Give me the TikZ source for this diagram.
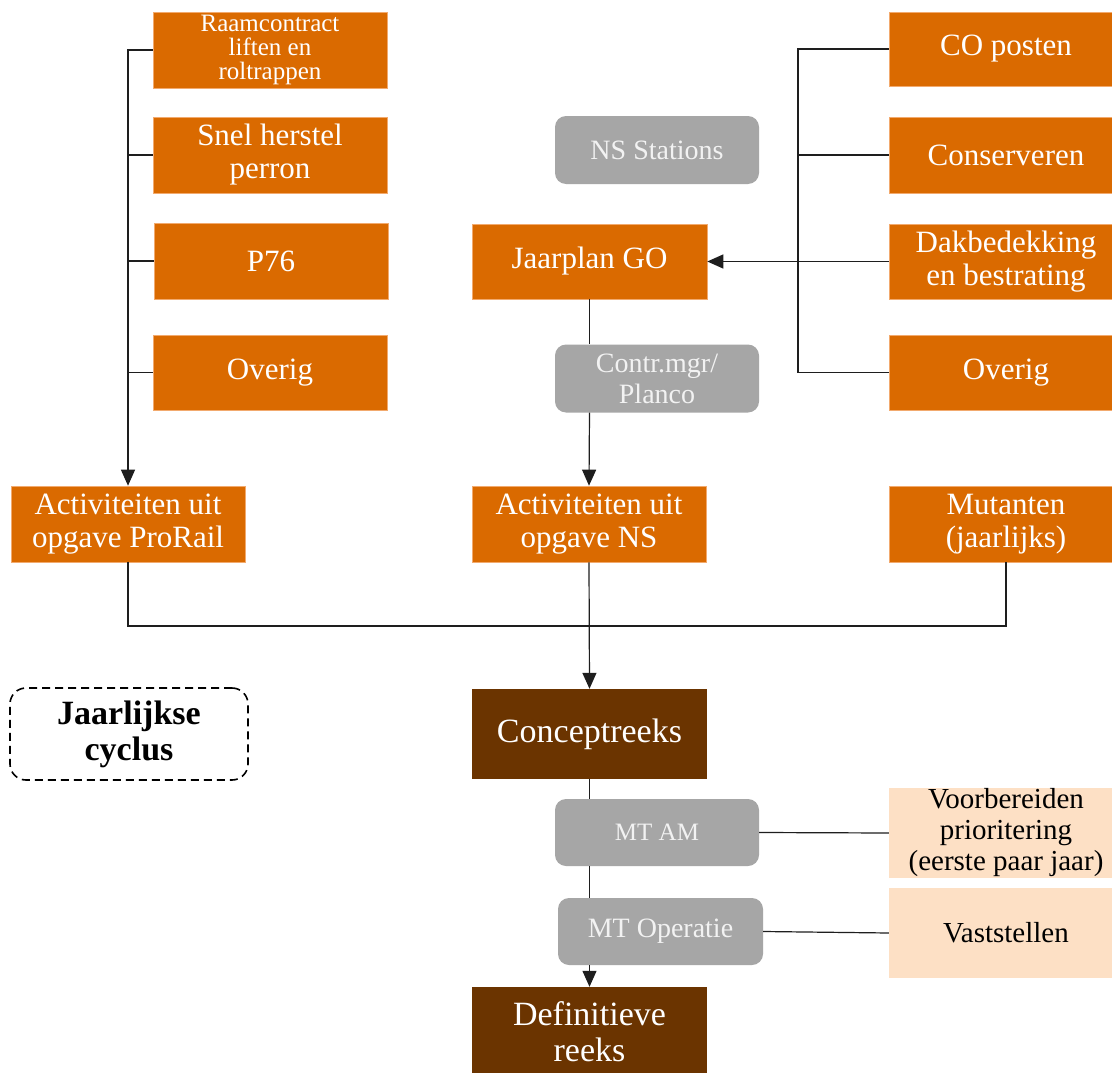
\documentclass[tikz,border=0pt]{standalone}
\usepackage{fontspec}
\setmainfont{Liberation Serif}
\usetikzlibrary{arrows.meta}
\definecolor{orng}{RGB}{218,106,0}
\definecolor{orngedge}{RGB}{242,170,110}
\definecolor{brwn}{RGB}{107,52,0}
\definecolor{gry}{RGB}{166,166,166}
\definecolor{peach}{RGB}{253,224,197}
\definecolor{lnk}{RGB}{30,30,30}
\tikzset{
  obox/.style={fill=orng, draw=orngedge, line width=0.6pt, minimum width=234pt, minimum height=76pt,
    text=white, align=center, inner sep=0pt, font=\fontsize{31}{33}\selectfont},
  gbox/.style={fill=gry, rounded corners=11pt, minimum width=204pt, minimum height=68pt,
    text=white!95!black, align=center, inner sep=0pt, font=\fontsize{28}{31}\selectfont},
  bbox/.style={fill=brwn, minimum width=235pt, minimum height=90pt,
    text=white, align=center, inner sep=0pt, font=\fontsize{34}{36}\selectfont},
  pbox/.style={fill=peach, minimum width=234pt, minimum height=90pt,
    text=black, align=center, inner sep=0pt, font=\fontsize{29}{31}\selectfont},
  cyclebox/.style={draw=black, dashed, dash pattern=on 8pt off 5pt, line width=1.6pt, rounded corners=16pt,
    minimum width=238pt, minimum height=92pt, align=center, inner sep=0pt,
    font=\bfseries\fontsize{34}{36}\selectfont},
  link/.style={draw=lnk, line width=1.2pt},
  arr/.style={link, -{Triangle[length=16pt,width=14pt]}}
}
\begin{document}
\begin{tikzpicture}[x=1pt,y=-1pt]
\useasboundingbox (0,0) rectangle (1112,1073);
\fill[white] (0,0) rectangle (1112,1073);

% left column
\node[obox, font=\fontsize{25}{24}\selectfont] (raam) at (270,50) {Raamcontract\\liften en\\roltrappen};
\node[obox] (snel) at (270,155) {Snel herstel\\perron};
\node[obox] (p76) at (271,261) {P76};
\node[obox, minimum height=75pt] (ovl) at (270,372.5) {Overig};
\node[obox] (actpr) at (128,524) {Activiteiten uit\\opgave ProRail};

% middle column
\node[gbox] (nsst) at (657,150) {NS Stations};
\node[obox, minimum width=235pt, minimum height=75pt] (jaar) at (589.5,261.5) {Jaarplan GO};
\node[gbox] (contr) at (657,378.5) {Contr.mgr/\\Planco};
\node[obox] (actns) at (589,524) {Activiteiten uit\\opgave NS};

% right column
\node[obox, minimum height=74pt] (co) at (1006,49) {CO posten};
\node[obox] (cons) at (1006,155) {Conserveren};
\node[obox, minimum height=75pt] (dak) at (1006,261.5) {Dakbedekking\\en bestrating};
\node[obox, minimum height=75pt] (ovr) at (1006,372.5) {Overig};
\node[obox] (mut) at (1006,524) {Mutanten\\(jaarlijks)};

% lower part
\node[cyclebox] (cyc) at (129,734) {Jaarlijkse\\cyclus};
\node[bbox] (concept) at (589.5,734) {Conceptreeks};
\node[gbox, minimum height=67pt, font=\fontsize{25}{28}\selectfont] (mtam) at (657,832.5) {MT AM};
\node[gbox, minimum width=205pt, minimum height=67pt] (mtop) at (660.5,931.5) {MT Operatie};
\node[pbox] (voorb) at (1006,833) {Voorbereiden\\prioritering\\(eerste paar jaar)};
\node[pbox] (vast) at (1006,933) {Vaststellen};
\node[bbox] (def) at (589.5,1032) {Definitieve\\reeks};

% left bus
\draw[arr] (raam.west) -| (actpr.north);
\draw[link] (snel.west) -- (snel.west -| actpr.north);
\draw[link] (p76.west) -- (p76.west -| actpr.north);
\draw[link] (ovl.west) -- (ovl.west -| actpr.north);

% right bus
\coordinate (busr) at (798,0);
\draw[link] (co.west) -- (co.west -| busr) -- (ovr.west -| busr) -- (ovr.west);
\draw[link] (cons.west) -- (cons.west -| busr);
\draw[arr] (dak.west) -- (jaar.east);

% middle chain
\draw[link] (jaar.south) -- (jaar.south |- contr.north);
\draw[arr] (jaar.south |- contr.south) -- (actns.north);

% merge
\coordinate (merge) at (589,626);
\draw[link] (actpr.south) |- (merge) -| (mut.south);
\draw[arr] (actns.south) -- (concept.north);

% bottom chain
\draw[link] (concept.south) -- (concept.south |- mtam.north);
\draw[link] (concept.south |- mtam.south) -- (concept.south |- mtop.north);
\draw[arr] (concept.south |- mtop.south) -- (def.north);
\draw[link] (mtam.east) -- (voorb.west);
\draw[link] (mtop.east) -- (vast.west);
\end{tikzpicture}
\end{document}
